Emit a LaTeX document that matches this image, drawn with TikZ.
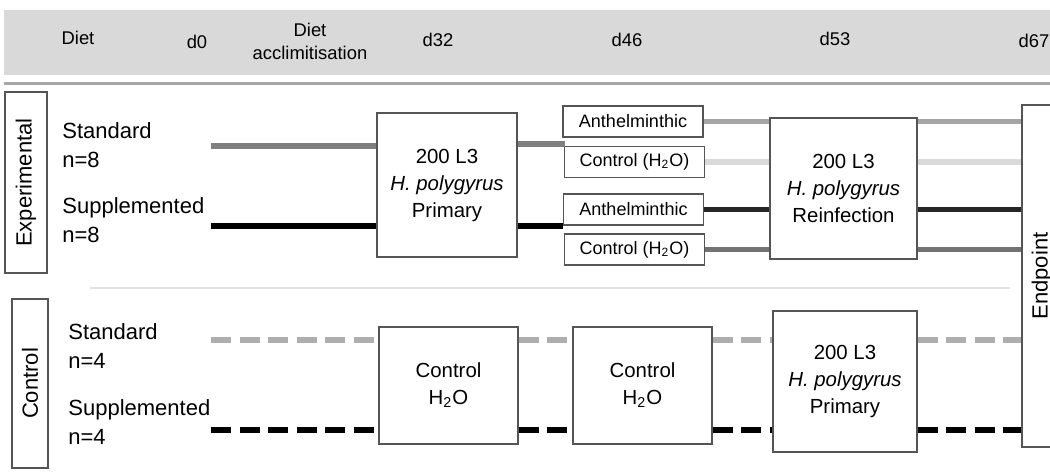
\documentclass[tikz,border=0pt]{standalone}
\usepackage{fontspec}
\setmainfont{Liberation Sans}
\definecolor{boxc}{HTML}{555555}
\definecolor{hdrfill}{HTML}{D9D9D9}
\definecolor{rulec}{HTML}{A6A6A6}
\definecolor{sepc}{HTML}{E2E2E2}
\definecolor{stdc}{HTML}{7F7F7F}
\definecolor{anstd}{HTML}{A5A5A5}
\definecolor{ctstd}{HTML}{DADADA}
\definecolor{ansup}{HTML}{262626}
\definecolor{ctsup}{HTML}{727272}
\definecolor{dstd}{HTML}{AEAEAE}
\begin{document}
\begin{tikzpicture}[x=0.5pt,y=-0.5pt,
  box/.style={draw=boxc, line width=0.6pt, fill=white, inner sep=0pt, align=center, font=\fontsize{10.2}{13.5}\selectfont},
  sbox/.style={draw=boxc, line width=0.6pt, fill=white, inner sep=0pt, minimum width=70pt, minimum height=15.5pt, font=\fontsize{9}{11}\selectfont},
  lbl/.style={anchor=west, align=left, inner sep=0pt, font=\fontsize{11}{14.5}\selectfont},
  hdr/.style={inner sep=0pt, align=center, font=\fontsize{9.2}{11.5}\selectfont},
  grp/.style={draw=boxc, line width=0.6pt, fill=white, rotate=90, inner sep=0pt, font=\fontsize{11}{13}\selectfont},
  mainline/.style={line width=3.2pt},
  branchline/.style={line width=2.6pt},
  dline/.style={line width=3pt, dash pattern=on 10pt off 4.25pt}
]
\clip (0,0) rectangle (1050,475);
% header
\fill[hdrfill] (4,10) rectangle (1060,75);
\draw[rulec, line width=1.5pt] (4,83.5) -- (1060,83.5);
\node[hdr] (hdiet) at (78,38) {Diet};
\node[hdr] (hd0) at (197,42) {d0};
\node[hdr] (hacc) at (310,41) {Diet\\acclimitisation};
\node[hdr] (hd32) at (438,40) {d32};
\node[hdr] (hd46) at (627,40) {d46};
\node[hdr] (hd53) at (835,39) {d53};
\node[hdr] (hd67) at (1034,40.5) {d67};
% separator
\draw[sepc, line width=1pt] (90,288) -- (1010,288);
% group labels
\node[grp, minimum width=90.5pt, minimum height=21pt] (exp) at (26,182.5) {Experimental};
\node[grp, minimum width=84.5pt, minimum height=18pt] (ctl) at (30,383.5) {Control};
\node[grp, minimum width=171pt, minimum height=20pt] (ep) at (1042,276) {Endpoint};
% diet labels
\node[lbl] (estd) at (62,145) {Standard\\n=8};
\node[lbl] (esup) at (62,220.5) {Supplemented\\n=8};
\node[lbl] (cstd) at (68,346) {Standard\\n=4};
\node[lbl] (csup) at (68,422) {Supplemented\\n=4};
% boxes
\node[box, minimum width=70pt, minimum height=72pt] (b1) at (447,185) {200 L3\\\textit{H. polygyrus}\\Primary};
\node[box, minimum width=73.5pt, minimum height=70.5pt] (b2) at (843.5,188.5) {200 L3\\\textit{H. polygyrus}\\Reinfection};
\node[box, minimum width=69.5pt, minimum height=58.5pt] (b3) at (448.5,385.5) {Control\\H\textsubscript{2}O};
\node[box, minimum width=69.5pt, minimum height=58.5pt] (b4) at (642.5,385.5) {Control\\H\textsubscript{2}O};
\node[box, minimum width=72pt, minimum height=70.5pt] (b5) at (845,381.5) {200 L3\\\textit{H. polygyrus}\\Primary};
\node[sbox] (a1) at (633,121.5) {Anthelminthic};
\node[sbox] (c1) at (634.5,162) {Control (H\textsubscript{2}O)};
\node[sbox] (a2) at (633.5,209.5) {Anthelminthic};
\node[sbox] (c2) at (634.5,249.5) {Control (H\textsubscript{2}O)};
% coordinates
\coordinate (s1) at (211,146);
\coordinate (s2) at (211,226);
\coordinate (s3) at (211,340);
\coordinate (s4) at (211,430);
\coordinate (j1) at (565,144);
\coordinate (j2) at (563,226);
% experimental lines
\draw[mainline, stdc] (s1) -- (s1 -| b1.west);
\draw[mainline, black] (s2) -- (s2 -| b1.west);
\draw[mainline, stdc] (b1.east |- j1) -- (j1);
\draw[mainline, black] (b1.east |- j2) -- (j2);
\draw[branchline, anstd] (a1.east) -- (a1.east -| b2.west);
\draw[branchline, ctstd] (c1.east) -- (c1.east -| b2.west);
\draw[branchline, ansup] (a2.east) -- (a2.east -| b2.west);
\draw[branchline, ctsup] (c2.east) -- (c2.east -| b2.west);
\draw[branchline, anstd] (b2.east |- a1.east) -- (ep.north |- a1.east);
\draw[branchline, ctstd] (b2.east |- c1.east) -- (ep.north |- c1.east);
\draw[branchline, ansup] (b2.east |- a2.east) -- (ep.north |- a2.east);
\draw[branchline, ctsup] (b2.east |- c2.east) -- (ep.north |- c2.east);
% control lines
\draw[dline, dstd] (s3) -- (s3 -| b3.west);
\draw[dline, dstd] (s3 -| b3.east) -- (s3 -| b4.west);
\draw[dline, dstd] (s3 -| b4.east) -- (s3 -| b5.west);
\draw[dline, dstd] (s3 -| b5.east) -- (s3 -| ep.north);
\draw[dline, black] (s4) -- (s4 -| b3.west);
\draw[dline, black] (s4 -| b3.east) -- (s4 -| b4.west);
\draw[dline, black] (s4 -| b4.east) -- (s4 -| b5.west);
\draw[dline, black] (s4 -| b5.east) -- (s4 -| ep.north);
\end{tikzpicture}
\end{document}
